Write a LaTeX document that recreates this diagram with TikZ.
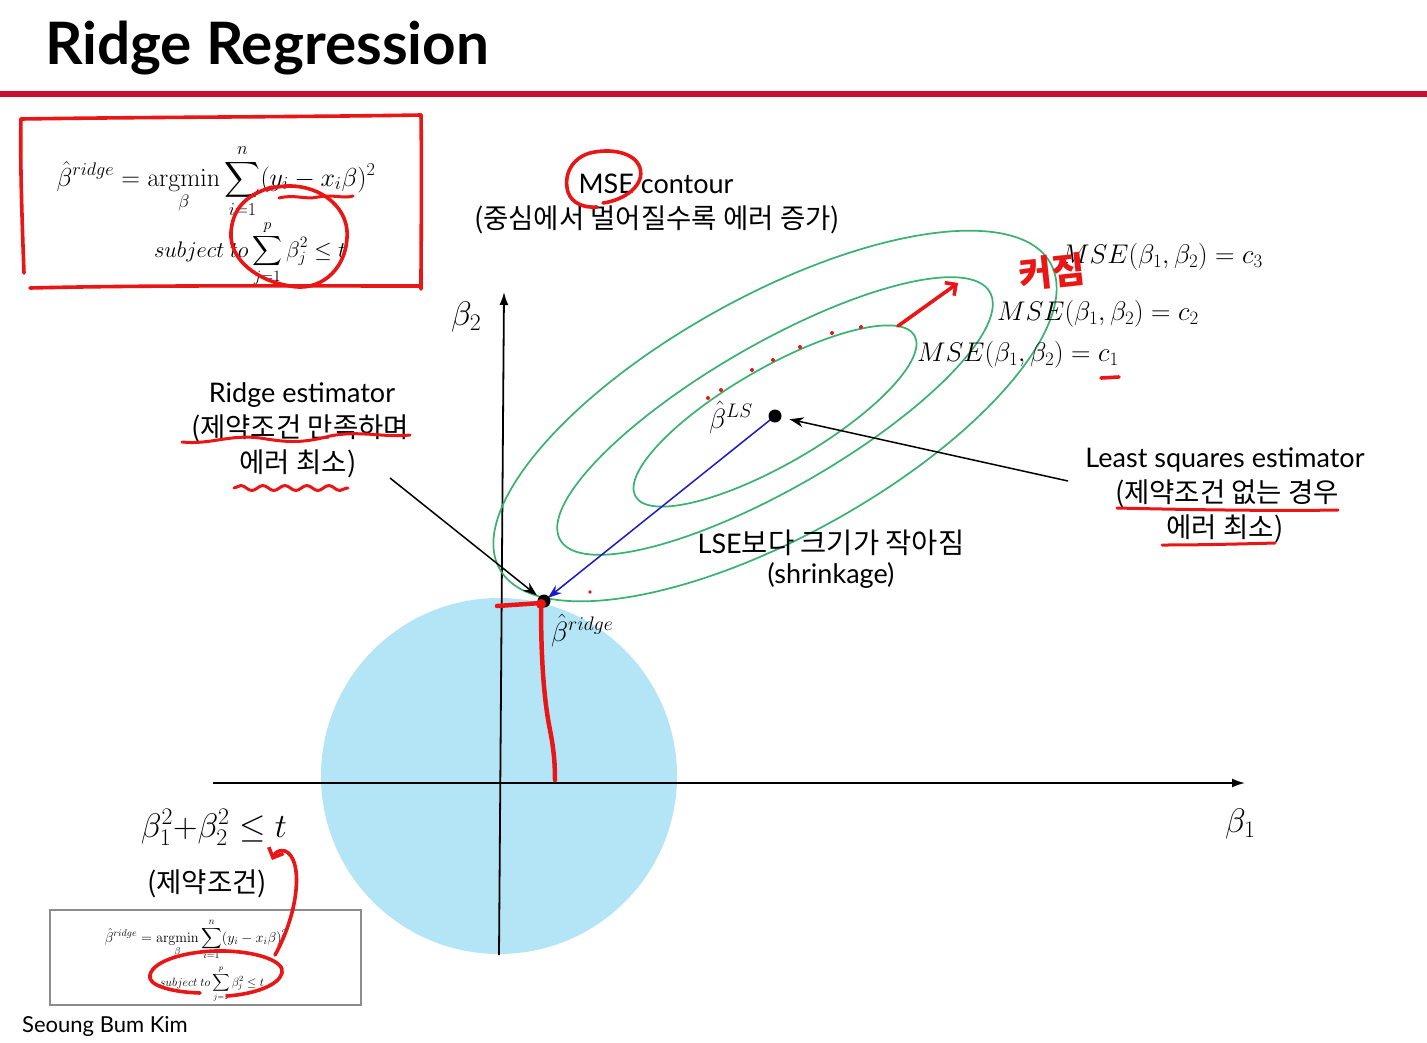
\RequirePackage{fix-cm}
\documentclass[tikz,border=0pt]{standalone}
\usepackage{amsmath}
\usepackage[no-math]{fontspec}
\setmainfont{Lato}
\newfontfamily\kr{Noto Sans CJK KR}
\usetikzlibrary{arrows.meta,calc,decorations.pathmorphing}
\definecolor{titlered}{RGB}{200,16,46}
\definecolor{penred}{RGB}{234,22,22}
\definecolor{cgreen}{RGB}{56,178,110}
\definecolor{diskblue}{RGB}{180,229,247}
\definecolor{ablue}{RGB}{25,25,205}
\definecolor{boxgray}{RGB}{140,140,140}
\begin{document}
\begin{tikzpicture}[x=1pt,y=-1pt,
  lab/.style={inner sep=0pt, font=\fontsize{27}{33}\selectfont},
  krlab/.style={inner sep=0pt, font=\kr\fontsize{27.5}{33}\selectfont},
  mlab/.style={inner sep=0pt, anchor=base west, font=\fontsize{27}{33}\selectfont},
  redpen/.style={draw=penred, line width=3.6pt, line cap=round, line join=round},
  contour/.style={draw=cgreen, line width=1.7pt},
  axisline/.style={draw=black, line width=1.8pt, -{Latex[length=13pt,width=9pt]}},
  pointer/.style={line width=1.5pt, -{Stealth[length=14pt,width=10pt]}},
  penarrow/.style={redpen, -{Straight Barb[length=8pt,width=16pt,line width=3.6pt]}}
]
\fill[white, use as bounding box] (0,0) rectangle (1427,1042);

% title
\node[anchor=base west, inner sep=0pt, font=\fontsize{58.5}{64}\selectfont\bfseries] (title) at (45,64) {Ridge Regression};
\coordinate (rl) at (0,94); \coordinate (rr) at (1427,94);
\draw[titlered, line width=6pt] (rl) -- (rr);

% constraint disk
\coordinate (o) at (499,776);
\fill[diskblue] (o) circle (178pt);

% axes
\coordinate (yb) at (499,955); \coordinate (yt) at (504,292);
\coordinate (xl) at (213,783); \coordinate (xr) at (1245,783);
\draw[axisline] (yb) -- (yt);
\draw[axisline] (xl) -- (xr);
\node[mlab, font=\fontsize{34}{40}\selectfont] (b2) at (451,325) {$\beta_2$};
\node[mlab, font=\fontsize{34}{40}\selectfont] (b1) at (1225,832) {$\beta_1$};

% contours
\coordinate (ls) at (775,416);
\draw[contour, rotate around={30:(ls)}] (ls) ellipse (161pt and 48pt);
\draw[contour, rotate around={30:(ls)}] (ls) ellipse (248pt and 72pt);
\draw[contour, rotate around={29:(ls)}] (ls) ellipse (315pt and 120pt);

\coordinate (ridge) at (544,601);

% arrows
\coordinate (ra) at (390,478);
\coordinate (la) at (1068,481);
\draw[pointer, ablue] (ls) -- ($(ridge)!5pt!(ls)$);
\draw[pointer] (ra) -- ($(ridge)!9pt!(ra)$);
\draw[pointer] (la) -- ($(ls)!15pt!(la)$);

% points
\fill (ls) circle (6.5pt);
\fill (ridge) circle (6.5pt);

\node[mlab, font=\fontsize{28}{33}\selectfont] (lsl) at (709,428) {$\hat{\beta}^{LS}$};
\node[mlab, font=\fontsize{28}{33}\selectfont] (rdl) at (551,641) {$\hat{\beta}^{ridge}$};

% contour labels
\node[mlab] (c3) at (1061,263) {$MSE(\beta_1,\beta_2) = c_3$};
\node[mlab] (c2) at (997,320) {$MSE(\beta_1,\beta_2) = c_2$};
\node[mlab] (c1) at (917,361) {$MSE(\beta_1,\beta_2) = c_1$};

% texts
\node[lab, anchor=base] (msec) at (656,193) {MSE contour};
\node[krlab, anchor=base] (msek) at (657,228) {(중심에서 멀어질수록 에러 증가)};

\node[lab, anchor=base] (rt1) at (302,402) {Ridge estimator};
\node[krlab, anchor=base] (rt2) at (300,437) {(제약조건 만족하며};
\node[krlab, anchor=base] (rt3) at (298,472) {에러 최소)};

\node[lab, anchor=base] (lt1) at (1225,467) {Least squares estimator};
\node[krlab, anchor=base] (lt2) at (1227,502) {(제약조건 없는 경우};
\node[krlab, anchor=base] (lt3) at (1225,537) {에러 최소)};

\node[lab, anchor=base] (sh1) at (831,553) {LSE{\kr\fontsize{28.5}{33}\selectfont 보다 크기가 작아짐}};
\node[lab, anchor=base] (sh2) at (831,583) {(shrinkage)};

\node[inner sep=0pt, anchor=base, font=\fontsize{34}{40}\selectfont] (cons) at (214,837) {$\beta_1^2{+}\beta_2^2 \le t$};
\node[krlab, anchor=base] (consk) at (207,892) {(제약조건)};

% top formula
\node[inner sep=0pt, anchor=base, font=\fontsize{26}{30}\selectfont] (f1) at (216,186)
  {$\displaystyle \hat{\beta}^{ridge} = \mathop{\mathrm{argmin}}_{\beta}\sum_{i=1}^{n}(y_i - x_i\beta)^2$};
\node[inner sep=0pt, anchor=base, font=\fontsize{22.5}{27}\selectfont] (f2) at (250,257)
  {$\displaystyle subject\ to \sum_{j=1}^{p}\beta_j^2 \le t$};

% small formula box
\draw[boxgray, line width=1.2pt] (50,910) rectangle (361,1005);
\node[inner sep=0pt, anchor=base, font=\fontsize{14.3}{17}\selectfont] (g1) at (196,942)
  {$\displaystyle \hat{\beta}^{ridge} = \mathop{\mathrm{argmin}}_{\beta}\sum_{i=1}^{n}(y_i - x_i\beta)^2$};
\node[inner sep=0pt, anchor=base, font=\fontsize{12}{14}\selectfont] (g2) at (212,986)
  {$\displaystyle subject\ to \sum_{j=1}^{p}\beta_j^2 \le t$};

\node[lab, anchor=base west, font=\fontsize{22}{26}\selectfont] (author) at (22,1032) {Seoung Bum Kim};

% ---------- red pen annotations ----------
% box around top formula
\draw[redpen] (24,273) .. controls (22,220) and (20,160) .. (21,119);
\draw[redpen] (21,119) .. controls (150,117) and (300,117) .. (421,115);
\draw[redpen] (421,115) .. controls (422,180) and (421,240) .. (421,289);
\draw[redpen] (30,288) .. controls (150,285) and (300,286) .. (421,286);
% circle around constraint sum
\draw[redpen] (266,190) .. controls (305,176) and (350,200) .. (347,238)
  .. controls (345,272) and (318,292) .. (290,286)
  .. controls (258,281) and (229,260) .. (231,232)
  .. controls (233,205) and (250,194) .. (272,187);
\draw[redpen, line width=3pt] (279,198) .. controls (295,194) and (305,200) .. (318,197)
  .. controls (332,194) and (344,199) .. (353,196);
% circle around MSE
\draw[redpen] (603,203) .. controls (625,200) and (645,185) .. (640,168)
  .. controls (635,152) and (610,148) .. (590,153)
  .. controls (572,158) and (563,175) .. (568,192)
  .. controls (572,204) and (585,208) .. (597,207);
% growing contours
\node[inner sep=0pt, text=penred, font=\kr\bfseries\fontsize{36}{40}\selectfont, rotate=6] (grow) at (1052,272) {커짐};
\coordinate (ga) at (898,326); \coordinate (gb) at (958,283);
\draw[penarrow] (ga) -- (gb);
\coordinate (u1a) at (1101,378); \coordinate (u1b) at (1119,377);
\draw[redpen] (u1a) -- (u1b);
\foreach \p in {(708,398),(721,390),(752,370),(773,360),(800,347),(832,333),(861,327)}
  \fill[penred] \p circle (2pt);
\fill[penred] (590,592) circle (1.8pt);
% underlines
\draw[redpen, line width=3pt] (182,442) .. controls (210,445) and (230,434) .. (260,438)
  .. controls (285,442) and (300,444) .. (330,436)
  .. controls (360,430) and (385,438) .. (410,435);
\draw[redpen, line width=3pt, decorate, decoration={snake, amplitude=2.5pt, segment length=22pt}] (234,488) -- (348,488);
\draw[redpen, line width=3pt] (1117,508) .. controls (1200,510) and (1280,511) .. (1338,510);
\draw[redpen, line width=3pt] (1162,545) .. controls (1200,545) and (1240,544) .. (1275,543);
% ridge projection mark
\draw[redpen, line width=4.5pt] (497,606) -- (541,603);
\draw[redpen, line width=4.5pt] (541,603) .. controls (541,640) and (542,690) .. (550,730)
  .. controls (554,750) and (555,765) .. (555,780);
\fill[penred] (541,604) circle (5pt);
% small box annotations
\draw[redpen] (200,993) .. controls (170,992) and (147,985) .. (150,975)
  .. controls (153,960) and (190,950) .. (225,951)
  .. controls (260,952) and (285,962) .. (282,973)
  .. controls (279,985) and (255,994) .. (227,996);
\coordinate (ca) at (275,955); \coordinate (cb) at (272,860);
\draw[penarrow] (ca) .. controls (300,910) and (303,858) .. (285,851)
  .. controls (279,849) and (275,853) .. (cb);
\end{tikzpicture}
\end{document}
